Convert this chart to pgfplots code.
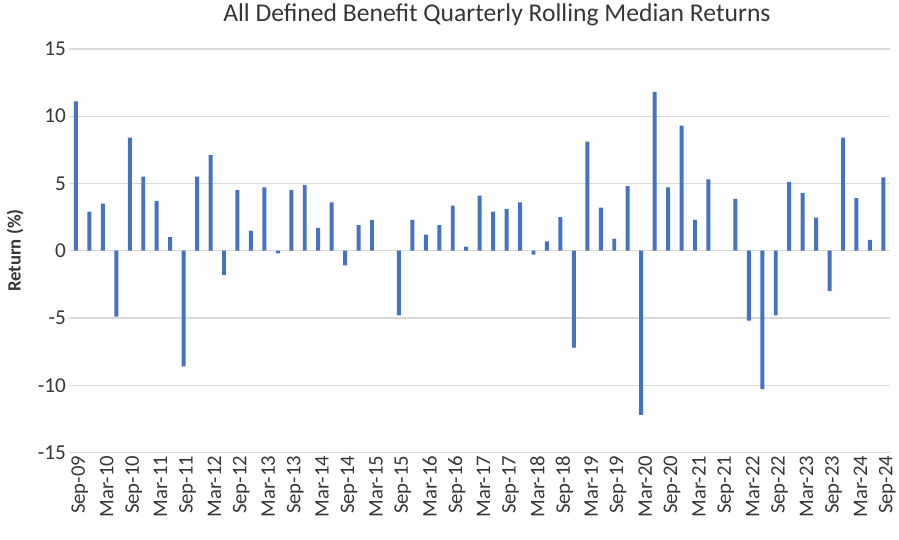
\documentclass[border=0pt]{standalone}
\usepackage{pgfplots}
\pgfplotsset{compat=1.18}
\usepackage{fontspec}
\setmainfont{Carlito}
\definecolor{barblue}{HTML}{4472C4}
\definecolor{gridgray}{HTML}{D9D9D9}
\definecolor{txt}{HTML}{363636}
\begin{document}
\begin{tikzpicture}
\begin{axis}[
  scale only axis, width=830bp, height=408bp,
  xmin=-0.5, xmax=60.5, ymin=-15, ymax=15,
  ytick={-15,-10,...,15},
  xtick={0,2,...,60},
  xticklabels={Sep-09,Mar-10,Sep-10,Mar-11,Sep-11,Mar-12,Sep-12,Mar-13,Sep-13,Mar-14,Sep-14,Mar-15,Sep-15,Mar-16,Sep-16,Mar-17,Sep-17,Mar-18,Sep-18,Mar-19,Sep-19,Mar-20,Sep-20,Mar-21,Sep-21,Mar-22,Sep-22,Mar-23,Sep-23,Mar-24,Sep-24},
  xticklabel style={rotate=90, anchor=east, font=\fontsize{21}{24}\selectfont, text=txt, yshift=-4bp},
  yticklabel style={font=\fontsize{21.5}{24}\selectfont, text=txt},
  /pgf/number format/assume math mode=true,
  ymajorgrids, grid style={gridgray, line width=1.2bp},
  axis line style={draw=none}, major tick length=0pt,
  ylabel={\bfseries Return (\%)},
  ylabel style={at={(axis description cs:-0.066,0.5)}, anchor=center, font=\fontsize{19}{22}\selectfont, text=txt},
  title={All Defined Benefit Quarterly Rolling Median Returns},
  title style={at={(axis description cs:0.521,1.071)}, anchor=center, font=\fontsize{26}{30}\selectfont, text=txt},
  clip=false,
]
\addplot[ybar, bar width=4bp, fill=barblue, draw=none] coordinates {
(0,11.1) (1,2.9) (2,3.5) (3,-4.9) (4,8.4) (5,5.5) (6,3.7) (7,1.0) (8,-8.6) (9,5.5)
(10,7.1) (11,-1.8) (12,4.5) (13,1.5) (14,4.7) (15,-0.2) (16,4.5) (17,4.9) (18,1.7) (19,3.6)
(20,-1.1) (21,1.9) (22,2.3) (23,0.0) (24,-4.8) (25,2.3) (26,1.2) (27,1.9) (28,3.35) (29,0.3)
(30,4.1) (31,2.9) (32,3.1) (33,3.6) (34,-0.3) (35,0.7) (36,2.5) (37,-7.2) (38,8.1) (39,3.2)
(40,0.9) (41,4.8) (42,-12.2) (43,11.8) (44,4.7) (45,9.3) (46,2.3) (47,5.3) (48,0.0) (49,3.85)
(50,-5.2) (51,-10.3) (52,-4.8) (53,5.1) (54,4.3) (55,2.45) (56,-3.0) (57,8.4) (58,3.9) (59,0.8)
(60,5.45)
};
\end{axis}
\useasboundingbox (-70bp,-88bp) rectangle (829bp,455bp);
\end{tikzpicture}
\end{document}
